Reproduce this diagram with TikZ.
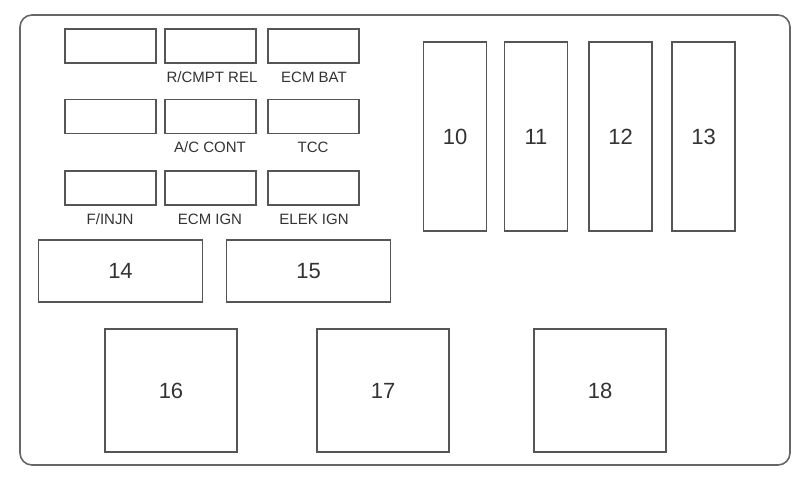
\documentclass[tikz,border=0pt]{standalone}
\usepackage{fontspec}
\setmainfont{Liberation Sans}
\definecolor{ln}{HTML}{555555}
\definecolor{tx}{HTML}{333333}
\begin{document}
\begin{tikzpicture}[x=1pt,y=-1pt,
  box/.style={draw=ln,line width=1.6pt,inner sep=0pt,text=tx},
  fuse/.style={box,minimum width=91pt,minimum height=34pt},
  tallrel/.style={box,minimum width=63pt,minimum height=189pt,font=\fontsize{22}{24}\selectfont},
  midrel/.style={box,minimum width=164pt,minimum height=62pt,font=\fontsize{22}{24}\selectfont},
  bigrel/.style={box,minimum width=132pt,minimum height=123pt,font=\fontsize{22}{24}\selectfont},
  lbl/.style={text=tx,inner sep=0pt,font=\fontsize{15}{16}\selectfont}]
\useasboundingbox[fill=white] (0,0) rectangle (811,481);
\draw[draw=ln!90,line width=1.6pt,rounded corners=12pt] (20,15) rectangle (790,465);
% small fuses
\node[fuse] (f11) at (110.5,46) {};
\node[fuse] (f12) at (210.5,46) {};
\node[fuse] (f13) at (313.5,46) {};
\node[fuse] (f21) at (110.5,116.5) {};
\node[fuse] (f22) at (210.5,116.5) {};
\node[fuse] (f23) at (313.5,116.5) {};
\node[fuse] (f31) at (110.5,188) {};
\node[fuse] (f32) at (210.5,188) {};
\node[fuse] (f33) at (313.5,188) {};
\node[lbl] (l12) at (212,77) {R/CMPT REL};
\node[lbl] (l13) at (314,77) {ECM BAT};
\node[lbl] (l22) at (210,147) {A/C CONT};
\node[lbl] (l23) at (313,147) {TCC};
\node[lbl] (l31) at (110,219) {F/INJN};
\node[lbl] (l32) at (210,219) {ECM IGN};
\node[lbl] (l33) at (314,219) {ELEK IGN};
% tall relays
\node[tallrel] (r10) at (455,136.5) {10};
\node[tallrel] (r11) at (536,136.5) {11};
\node[tallrel] (r12) at (620.5,136.5) {12};
\node[tallrel] (r13) at (703.5,136.5) {13};
% middle relays
\node[midrel] (r14) at (120.5,271) {14};
\node[midrel] (r15) at (308.5,271) {15};
% big relays
\node[bigrel] (r16) at (171,390.5) {16};
\node[bigrel] (r17) at (383,390.5) {17};
\node[bigrel] (r18) at (600,390.5) {18};
\end{tikzpicture}
\end{document}
